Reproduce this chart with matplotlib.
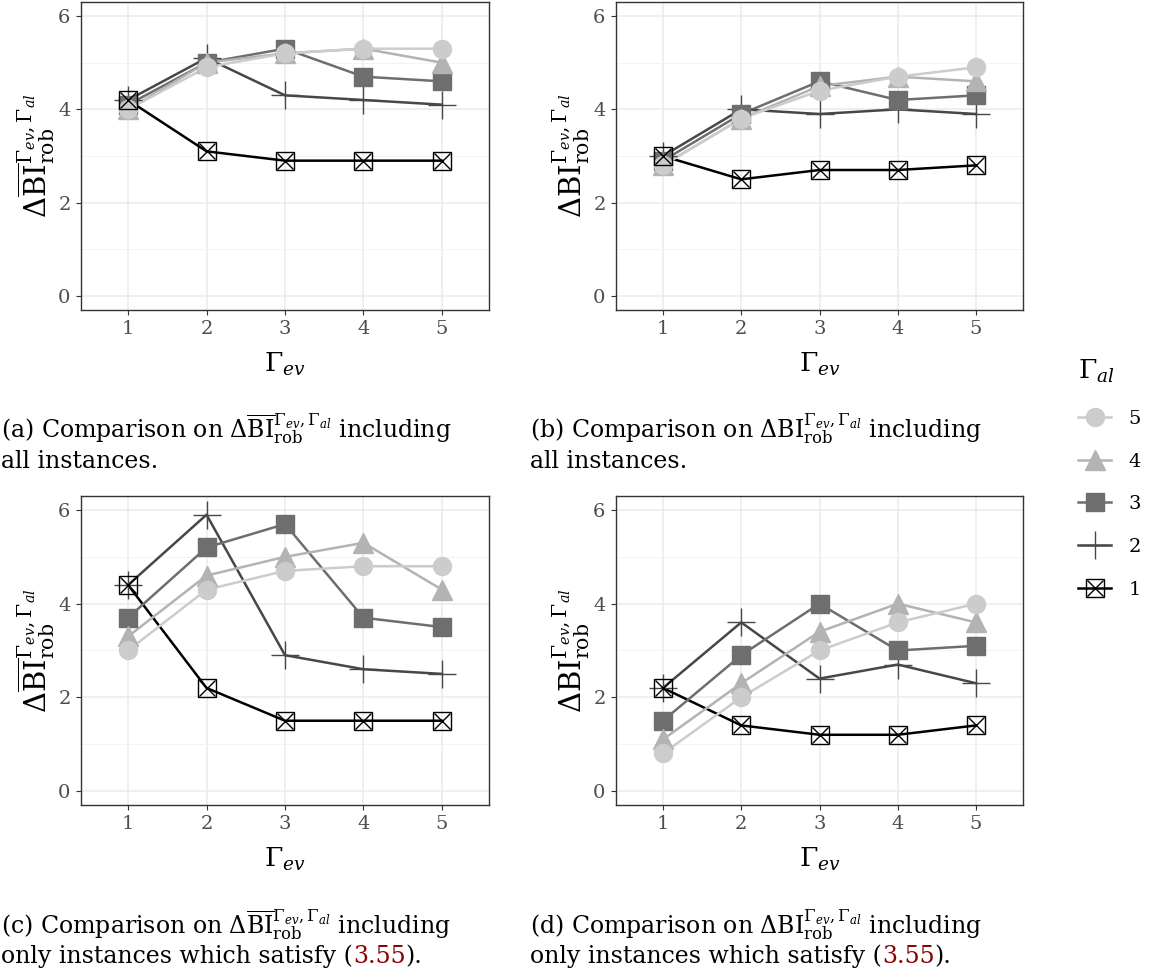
import numpy as np
import matplotlib
matplotlib.use('Agg')
import matplotlib.pyplot as plt
from matplotlib.lines import Line2D

plt.rcParams['font.family'] = ['DejaVu Serif']
plt.rcParams['mathtext.fontset'] = 'dejavuserif'

gamma_ev = [1, 2, 3, 4, 5]
gamma_al = [5, 4, 3, 2, 1]

# panel (a): mean delta BI, all instances
a_vals = {5: [4.0, 4.9, 5.2, 5.3, 5.3],
          4: [4.0, 5.0, 5.2, 5.3, 5.0],
          3: [4.1, 5.0, 5.3, 4.7, 4.6],
          2: [4.2, 5.1, 4.3, 4.2, 4.1],
          1: [4.2, 3.1, 2.9, 2.9, 2.9]}
# panel (b): delta BI, all instances
b_vals = {5: [2.8, 3.8, 4.4, 4.7, 4.9],
          4: [2.8, 3.8, 4.5, 4.7, 4.6],
          3: [2.9, 3.9, 4.6, 4.2, 4.3],
          2: [3.0, 4.0, 3.9, 4.0, 3.9],
          1: [3.0, 2.5, 2.7, 2.7, 2.8]}
# panel (c): mean delta BI, only instances satisfying (3.55)
c_vals = {5: [3.0, 4.3, 4.7, 4.8, 4.8],
          4: [3.3, 4.6, 5.0, 5.3, 4.3],
          3: [3.7, 5.2, 5.7, 3.7, 3.5],
          2: [4.4, 5.9, 2.9, 2.6, 2.5],
          1: [4.4, 2.2, 1.5, 1.5, 1.5]}
# panel (d): delta BI, only instances satisfying (3.55)
d_vals = {5: [0.8, 2.0, 3.0, 3.6, 4.0],
          4: [1.1, 2.3, 3.4, 4.0, 3.6],
          3: [1.5, 2.9, 4.0, 3.0, 3.1],
          2: [2.2, 3.6, 2.4, 2.7, 2.3],
          1: [2.2, 1.4, 1.2, 1.2, 1.4]}

colors = {5: '#cccccc', 4: '#b3b3b3', 3: '#6e6e6e', 2: '#474747', 1: '#000000'}

ylab_bar = r'$\Delta\overline{\mathrm{BI}}_{\mathrm{rob}}^{\Gamma_{ev},\Gamma_{al}}$'
ylab_plain = r'$\Delta\mathrm{BI}_{\mathrm{rob}}^{\Gamma_{ev},\Gamma_{al}}$'

W, H = 1151, 972
fig = plt.figure(figsize=(W / 100, H / 100), dpi=100)


def px_axes(x0, y0, x1, y1):
    return fig.add_axes([x0 / W, 1 - y1 / H, (x1 - x0) / W, (y1 - y0) / H])


def draw_markers(ax, x, y, g):
    c = colors[g]
    if g == 5:
        ax.plot(x, y, 'o', color=c, ms=13, zorder=3)
    elif g == 4:
        ax.plot(x, y, '^', color=c, ms=14, zorder=3)
    elif g == 3:
        ax.plot(x, y, 's', color=c, ms=13, zorder=3)
    elif g == 2:
        ax.plot(x, y, '+', color=c, ms=20, mew=1.0, zorder=3)
    else:
        ax.plot(x, y, 's', mfc='none', mec=c, ms=13, mew=1.0, zorder=4)
        ax.plot(x, y, 'x', color=c, ms=12, mew=1.0, zorder=4)


def panel(ax, vals, ylab):
    for g in [1, 2, 3, 4, 5]:
        ax.plot(gamma_ev, vals[g], '-', color=colors[g], lw=1.8, zorder=2)
    for g in [1, 2, 3, 4, 5]:
        draw_markers(ax, gamma_ev, vals[g], g)
    ax.set_xlim(0.4, 5.6)
    ax.set_ylim(-0.3, 6.3)
    ax.set_xticks(gamma_ev)
    ax.set_yticks([0, 2, 4, 6])
    ax.set_yticks([1, 3, 5], minor=True)
    ax.grid(which='major', color='#ebebeb', lw=1.1, zorder=0)
    ax.grid(which='minor', axis='y', color='#f3f3f3', lw=0.6, zorder=0)
    ax.tick_params(which='major', length=3.5, width=0.8, color='#333333',
                   labelsize=14, labelcolor='#4d4d4d', pad=4)
    ax.tick_params(which='minor', length=0)
    for s in ax.spines.values():
        s.set_color('#333333')
        s.set_linewidth(1.0)
    ax.set_axisbelow(True)
    ax.set_xlabel(r'$\Gamma_{ev}$', fontsize=19, labelpad=9)
    ax.set_ylabel(ylab, fontsize=21, labelpad=1)


ax_a = px_axes(81, 2, 489, 310)
ax_b = px_axes(616, 2, 1023, 310)
ax_c = px_axes(81, 496, 489, 805)
ax_d = px_axes(616, 496, 1023, 805)

panel(ax_a, a_vals, ylab_bar)
panel(ax_b, b_vals, ylab_plain)
panel(ax_c, c_vals, ylab_bar)
panel(ax_d, d_vals, ylab_plain)

# captions
cap_size = 17
red = '#8b0000'
renderer = fig.canvas.get_renderer()


def text_run(x, y, parts):
    xp = x
    for txt, col in parts:
        t = fig.text(xp / W, 1 - y / H, txt, fontsize=cap_size, color=col,
                     va='baseline', ha='left')
        bb = t.get_window_extent(renderer=renderer)
        xp += bb.width


text_run(1, 438, [('(a) Comparison on ' + ylab_bar + ' including', 'black')])
text_run(1, 468, [('all instances.', 'black')])
text_run(530, 438, [('(b) Comparison on ' + ylab_plain + ' including', 'black')])
text_run(530, 468, [('all instances.', 'black')])
text_run(1, 933, [('(c) Comparison on ' + ylab_bar + ' including', 'black')])
text_run(1, 963, [('only instances which satisfy (', 'black'), ('3.55', red), (').', 'black')])
text_run(530, 933, [('(d) Comparison on ' + ylab_plain + ' including', 'black')])
text_run(530, 963, [('only instances which satisfy (', 'black'), ('3.55', red), (').', 'black')])

# legend
handles = [
    Line2D([], [], color=colors[5], lw=1.8, marker='o', ms=13),
    Line2D([], [], color=colors[4], lw=1.8, marker='^', ms=14),
    Line2D([], [], color=colors[3], lw=1.8, marker='s', ms=13),
    Line2D([], [], color=colors[2], lw=1.8, marker='+', ms=20, mew=1.0),
    (Line2D([], [], color=colors[1], lw=1.8, marker='s', mfc='none', ms=13, mew=1.0),
     Line2D([], [], color=colors[1], lw=0, marker='x', ms=12, mew=1.0)),
]
labels = [str(g) for g in gamma_al]
leg = fig.legend(handles, labels, loc='upper left',
                 bbox_to_anchor=(1078 / W, 1 - 358 / H), frameon=False,
                 title=r'$\Gamma_{al}$', title_fontsize=19, fontsize=14,
                 handlelength=1.7, labelspacing=1.27, handletextpad=0.9,
                 borderpad=0, borderaxespad=0, alignment='left')

fig.savefig('out.png', dpi=100)
